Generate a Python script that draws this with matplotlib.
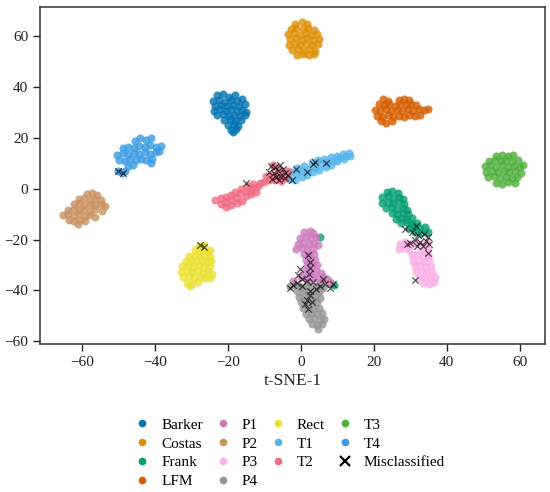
import matplotlib
matplotlib.use("Agg")
import matplotlib.pyplot as plt
from matplotlib.lines import Line2D

plt.rcParams['font.family'] = ['Liberation Serif', 'DejaVu Serif']

# ---------------- data (t-SNE embedding points) ----------------
BARKER = [
    (-23.0, 36.8), (-21.3, 37.2), (-19.7, 36.3), (-18.1, 36.9),
    (-24.1, 34.5), (-22.5, 35.0), (-20.8, 34.2), (-19.2, 34.9), (-17.5, 34.4), (-16.1, 35.2),
    (-23.4, 32.6), (-21.8, 33.1), (-20.1, 32.4), (-18.6, 33.0), (-16.9, 32.5), (-15.4, 33.2),
    (-23.9, 30.7), (-22.2, 31.3), (-20.6, 30.5), (-19.0, 31.2), (-17.5, 30.6), (-16.0, 31.0), (-14.9, 30.2),
    (-23.1, 28.9), (-21.4, 29.4), (-19.8, 28.7), (-18.2, 29.2), (-16.6, 28.6), (-15.3, 29.0),
    (-21.0, 27.0), (-19.4, 27.4), (-17.9, 26.8), (-16.5, 27.2),
    (-19.9, 25.1), (-18.3, 25.5), (-17.1, 24.8),
    (-19.1, 23.2), (-17.8, 23.6), (-18.6, 22.2),
]
COSTAS = [
    (-1.5, 65.0), (0.2, 65.6), (1.8, 64.8),
    (-2.8, 63.0), (-1.2, 63.4), (0.5, 62.8), (2.1, 63.3), (3.6, 62.6),
    (-3.5, 60.9), (-1.9, 61.4), (-0.3, 60.7), (1.3, 61.2), (2.9, 60.6), (4.4, 61.1),
    (-3.0, 58.8), (-1.4, 59.3), (0.2, 58.6), (1.8, 59.2), (3.4, 58.5), (5.0, 59.0),
    (-3.3, 56.7), (-1.7, 57.1), (-0.1, 56.5), (1.5, 57.0), (3.1, 56.4), (4.6, 56.9),
    (-2.4, 54.6), (-0.8, 55.0), (0.8, 54.4), (2.4, 54.9), (4.0, 54.3),
    (-1.0, 52.8), (0.6, 53.2), (2.2, 52.6), (3.6, 53.0),
]
FRANK = [
    (23.6, -1.2), (25.1, -0.8), (26.6, -1.6),
    (22.4, -3.4), (23.9, -3.0), (25.4, -3.6), (26.9, -3.2), (28.0, -3.9),
    (22.3, -5.6), (23.8, -5.2), (25.3, -5.8), (26.8, -5.4), (28.2, -6.0),
    (23.5, -7.6), (25.0, -7.3), (26.5, -7.9), (28.0, -7.5), (29.2, -8.3),
    (25.0, -9.6), (26.5, -9.9), (28.0, -9.4), (29.5, -10.0),
    (26.0, -11.8), (27.5, -11.4), (29.0, -12.0), (30.5, -11.6),
    (27.5, -13.6), (29.0, -13.2), (30.5, -13.8), (32.0, -13.4),
    (29.6, -15.4), (31.1, -15.0), (32.6, -15.6), (34.0, -15.2),
    (31.4, -17.0), (33.0, -17.4), (34.8, -17.0),
    (5.4, -19.2), (9.0, -38.0),
]
LFM = [
    (22.6, 35.4), (23.8, 34.6), (27.0, 35.0), (28.4, 35.5), (29.6, 34.8),
    (21.4, 33.2), (22.9, 32.8), (24.3, 33.4), (25.8, 32.7), (27.3, 33.3), (28.8, 32.9), (30.3, 33.4), (31.7, 32.8),
    (20.3, 31.0), (21.8, 30.6), (23.3, 31.2), (24.8, 30.5), (26.3, 31.1), (27.8, 30.6), (29.3, 31.2),
    (30.8, 30.7), (32.3, 31.3), (33.8, 31.0), (35.0, 31.5),
    (20.8, 28.7), (22.3, 28.3), (23.8, 28.9), (25.3, 28.2), (26.8, 28.8), (28.3, 28.4), (29.8, 29.0),
    (31.3, 28.6), (32.8, 29.1),
    (21.9, 26.5), (23.4, 26.0), (24.9, 26.7),
]
P1 = [
    (1.0, -17.2), (2.4, -16.8), (3.4, -17.6),
    (-0.2, -19.4), (1.3, -19.0), (2.8, -19.6), (4.2, -19.2),
    (-0.8, -21.6), (0.7, -21.2), (2.2, -21.8), (3.7, -21.4), (4.8, -22.0),
    (-1.2, -23.8), (0.3, -23.4), (1.8, -24.0), (3.3, -23.6),
    (0.8, -25.8), (2.3, -26.2), (3.6, -25.8),
    (1.4, -28.0), (2.9, -28.4), (4.0, -28.0),
    (1.6, -30.2), (3.1, -30.6), (4.4, -30.2),
    (1.2, -32.4), (2.7, -32.8), (4.2, -32.4), (5.6, -33.2),
    (0.0, -34.6), (1.5, -35.0), (3.0, -34.6), (4.5, -35.2), (6.0, -34.8), (7.2, -35.6),
    (-2.0, -36.4), (2.0, -36.8), (5.2, -37.0), (8.0, -36.6),
]
P2 = [
    (-58.6, -2.2), (-57.2, -1.8), (-55.9, -2.6),
    (-60.8, -4.2), (-59.3, -3.8), (-57.8, -4.4), (-56.3, -3.9), (-54.9, -4.6),
    (-62.3, -6.2), (-60.8, -5.8), (-59.3, -6.4), (-57.8, -5.9), (-56.3, -6.5), (-54.8, -6.0), (-53.6, -6.8),
    (-63.8, -8.3), (-62.3, -7.9), (-60.8, -8.5), (-59.3, -8.0), (-57.8, -8.6), (-56.3, -8.1), (-54.5, -8.7),
    (-65.2, -10.4), (-63.7, -10.0), (-62.2, -10.6), (-60.7, -10.1), (-59.2, -10.7), (-57.7, -10.2), (-56.3, -11.0),
    (-63.6, -12.3), (-62.1, -12.8), (-60.6, -12.2), (-59.1, -12.7),
    (-61.0, -14.0),
]
P3 = [
    (27.2, -21.6), (28.7, -21.0), (30.2, -21.8), (31.7, -21.2), (33.2, -22.0), (34.7, -21.4),
    (26.8, -23.6), (28.3, -23.2), (29.8, -24.0), (33.5, -24.2), (35.0, -23.7),
    (30.4, -26.2), (31.9, -25.8), (33.4, -26.5), (34.8, -26.0),
    (30.8, -28.4), (32.3, -28.0), (33.8, -28.7), (35.2, -28.2),
    (31.2, -30.6), (32.7, -30.2), (34.2, -30.9), (35.6, -30.4),
    (31.6, -32.8), (33.1, -32.4), (34.6, -33.1), (36.0, -32.6),
    (32.4, -35.0), (33.9, -34.6), (35.4, -35.3), (36.8, -34.8),
    (33.6, -37.0), (35.1, -37.4), (36.6, -36.8),
]
P4 = [
    (-3.0, -38.4), (-1.5, -38.0), (0.0, -38.6), (1.5, -38.2), (3.0, -38.8), (4.5, -38.4), (6.0, -39.0),
    (-1.0, -40.4), (0.5, -40.0), (2.0, -40.6), (3.5, -40.2), (5.0, -40.8),
    (-0.6, -42.6), (0.9, -42.2), (2.4, -42.8), (3.9, -42.4), (5.2, -43.0),
    (0.0, -44.8), (1.5, -44.4), (3.0, -45.0), (4.5, -44.6),
    (0.6, -47.0), (2.1, -46.6), (3.6, -47.2), (5.0, -46.8),
    (1.4, -49.2), (2.9, -48.8), (4.4, -49.4), (5.8, -49.0),
    (2.2, -51.4), (3.7, -51.0), (5.2, -51.6), (6.4, -51.2),
    (3.0, -53.4), (4.5, -53.8), (5.8, -53.4), (4.8, -55.4),
]
RECT = [
    (-27.8, -22.4), (-26.4, -22.0),
    (-29.0, -24.3), (-27.5, -24.0), (-26.0, -24.5), (-24.9, -24.2),
    (-30.6, -26.3), (-29.1, -26.0), (-27.6, -26.6), (-26.1, -26.1), (-24.8, -26.7),
    (-31.6, -28.4), (-30.1, -28.0), (-28.6, -28.6), (-27.1, -28.1), (-25.6, -28.7), (-24.5, -28.3),
    (-32.5, -30.6), (-31.0, -30.1), (-29.5, -30.7), (-28.0, -30.2), (-26.5, -30.8), (-25.0, -30.3),
    (-32.8, -32.8), (-31.3, -32.3), (-29.8, -32.9), (-28.3, -32.4), (-26.8, -33.0), (-25.3, -32.5), (-24.4, -33.4),
    (-32.2, -34.9), (-30.7, -34.5), (-29.2, -35.1), (-27.7, -34.6), (-26.2, -35.2), (-25.0, -35.0),
    (-31.3, -37.0), (-29.8, -37.5), (-28.3, -36.9), (-30.4, -38.4),
]
T1 = [
    (-3.2, 4.0), (-2.8, 6.5), (-1.6, 3.6), (-1.4, 5.8), (-1.0, 8.0),
    (0.2, 4.8), (0.4, 7.0), (1.0, 9.0), (1.8, 5.6), (2.2, 7.8),
    (3.0, 10.4), (3.4, 6.6), (3.8, 8.6), (4.6, 11.2), (5.0, 7.4), (5.4, 9.6),
    (6.4, 11.8), (6.8, 8.6), (7.0, 10.4), (8.2, 12.4), (8.4, 9.4), (8.8, 11.0),
    (9.8, 13.0), (10.0, 10.8), (10.4, 12.0), (11.6, 13.6), (11.8, 11.6), (12.4, 12.8), (13.2, 14.2), (13.4, 13.0),
]
T2 = [
    (-23.4, -4.6), (-22.0, -3.8), (-21.9, -6.1), (-20.5, -5.4), (-20.4, -7.2), (-19.0, -6.4),
    (-20.6, -3.2), (-19.1, -2.6), (-19.1, -4.3), (-17.6, -3.6), (-17.6, -5.6), (-16.1, -4.8),
    (-18.0, -1.2), (-16.6, -1.8), (-16.5, -0.2), (-15.0, -0.9), (-15.1, -3.0), (-13.7, -2.2),
    (-14.5, 1.2), (-13.2, 2.0), (-13.0, 0.2), (-11.7, 1.0), (-12.2, -1.1), (-11.3, 2.4), (-14.0, -0.8),
    (-10.0, 2.8), (-8.8, 3.4), (-9.5, 5.0), (-8.0, 5.6), (-7.6, 9.5), (-6.6, 8.0), (-7.2, 3.6),
    (-6.2, 5.0), (-5.0, 6.5), (-4.2, 4.4), (-5.5, 3.2), (-3.4, 6.8),
]
T3 = [
    (53.5, 13.0), (55.2, 13.4), (56.9, 12.8), (58.3, 13.1),
    (51.6, 11.0), (53.2, 11.4), (54.8, 10.8), (56.4, 11.3), (58.0, 10.7), (59.6, 11.2),
    (50.4, 8.9), (52.0, 9.3), (53.6, 8.7), (55.2, 9.2), (56.8, 8.6), (58.4, 9.1), (60.0, 8.6), (61.0, 9.4),
    (50.8, 6.7), (52.4, 7.1), (54.0, 6.5), (55.6, 7.0), (57.2, 6.4), (58.8, 6.9), (60.4, 6.3),
    (51.4, 4.5), (53.0, 4.9), (54.6, 4.3), (56.2, 4.8), (57.8, 4.2), (59.4, 4.7),
    (53.6, 2.4), (55.2, 2.0), (56.8, 2.5), (58.6, 2.1),
]
T4 = [
    (-45.5, 18.6), (-44.0, 19.8), (-42.4, 19.2), (-41.0, 19.9),
    (-48.8, 16.0), (-47.3, 16.6), (-45.8, 16.2), (-44.3, 17.0), (-42.8, 16.5), (-41.3, 17.1), (-39.8, 16.6), (-38.4, 17.0),
    (-50.3, 13.4), (-48.8, 13.9), (-47.3, 13.5), (-45.8, 14.2), (-44.3, 13.7), (-42.8, 14.3), (-41.3, 13.8),
    (-39.8, 14.4), (-38.8, 14.8),
    (-49.8, 11.2), (-48.3, 11.0), (-46.8, 11.6), (-45.3, 11.2), (-43.8, 11.8), (-42.3, 11.3), (-40.8, 11.9),
    (-47.5, 9.0), (-46.0, 9.4), (-41.0, 10.2),
    (-50.0, 6.8), (-49.0, 6.3), (-48.3, 6.9),
]
MISCLASSIFIED = [
    (-50.0, 7.0), (-48.7, 6.2),
    (-27.7, -22.2), (-26.5, -22.9),
    (-15.1, 2.3),
    (-8.2, 9.0), (-7.0, 8.4), (-5.8, 9.2), (-8.6, 6.6), (-7.4, 6.0), (-6.2, 6.8), (-5.0, 7.6), (-4.2, 6.0),
    (-6.8, 4.6), (-5.6, 5.2), (-4.4, 4.2), (-3.4, 5.4), (-7.8, 4.0), (-6.0, 3.4), (-2.5, 3.3),
    (-1.2, 7.6), (1.6, 6.6), (3.4, 9.9), (3.8, 10.6), (7.0, 10.3),
    (28.5, -15.7), (31.7, -14.6), (30.6, -17.0), (32.2, -18.2), (33.8, -17.8), (35.0, -19.2), (34.2, -20.4),
    (32.8, -21.0), (31.2, -20.0), (30.0, -21.2), (29.0, -21.6), (33.6, -22.4), (35.2, -21.8), (31.8, -22.6),
    (34.9, -25.5), (31.2, -35.8),
    (2.0, -26.2), (2.6, -28.8), (2.4, -31.4), (-0.3, -31.8), (-0.8, -33.8), (2.2, -33.4), (0.2, -35.4),
    (1.6, -36.2), (3.4, -36.8), (6.1, -35.4), (6.6, -37.4), (7.9, -38.9), (8.9, -37.6), (4.3, -39.3),
    (2.5, -40.2), (0.2, -38.5), (-2.1, -38.0), (-3.0, -38.9), (-1.0, -37.2), (5.2, -38.2),
    (1.1, -45.2), (2.0, -47.2), (1.6, -43.8), (2.6, -42.0), (3.0, -44.6),
]

CLASS_NAMES = ["Barker", "Costas", "Frank", "LFM", "P1", "P2", "P3", "P4",
               "Rect", "T1", "T2", "T3", "T4"]
CLASS_POINTS = [BARKER, COSTAS, FRANK, LFM, P1, P2, P3, P4, RECT, T1, T2, T3, T4]
CLASS_COLORS = ["#0173b2", "#de8f05", "#029e73", "#d55e00", "#cc78bc", "#ca9161",
                "#fbafe4", "#949494", "#ece133", "#56b4e9", "#ef6b83", "#4daf3a", "#3a9be3"]

X_TICKS = [-60, -40, -20, 0, 20, 40, 60]
Y_TICKS = [-60, -40, -20, 0, 20, 40, 60]

# ---------------- figure ----------------
fig = plt.figure(figsize=(5.5, 4.92), dpi=100)
ax = fig.add_axes([0.0727, 0.300, 0.9185, 0.686])

for name, pts, col in zip(CLASS_NAMES, CLASS_POINTS, CLASS_COLORS):
    xs = [p[0] for p in pts]
    ys = [p[1] for p in pts]
    ax.scatter(xs, ys, s=34, color=col, alpha=0.8, linewidths=0, label=name)

mx = [p[0] for p in MISCLASSIFIED]
my = [p[1] for p in MISCLASSIFIED]
ax.scatter(mx, my, s=22, marker='x', color='black', alpha=0.65, linewidths=0.9)

ax.set_xlim(-71.5, 67)
ax.set_ylim(-61.3, 71.6)
ax.set_xticks(X_TICKS)
ax.set_yticks(Y_TICKS)
ax.tick_params(direction='out', length=5, width=1.0, labelsize=11, colors='#222222')
for sp in ax.spines.values():
    sp.set_linewidth(1.1)
    sp.set_color('#333333')
ax.set_xlabel("t-SNE-1", fontsize=12.5, color='#222222', labelpad=3)

handles = [Line2D([], [], linestyle='none', marker='o', markersize=5.5,
                  markerfacecolor=c, markeredgewidth=0, label=n)
           for n, c in zip(CLASS_NAMES, CLASS_COLORS)]
handles.append(Line2D([], [], linestyle='none', marker='x', markersize=7,
                      color='black', markeredgewidth=1.6, label="Misclassified"))
fig.legend(handles=handles, loc='upper center', bbox_to_anchor=(0.527, 0.172),
           ncol=4, frameon=False, fontsize=11, handlelength=1.0, handletextpad=0.75,
           columnspacing=0.8, labelspacing=0.33, borderpad=0.2)

fig.savefig("out.png", dpi=100)
